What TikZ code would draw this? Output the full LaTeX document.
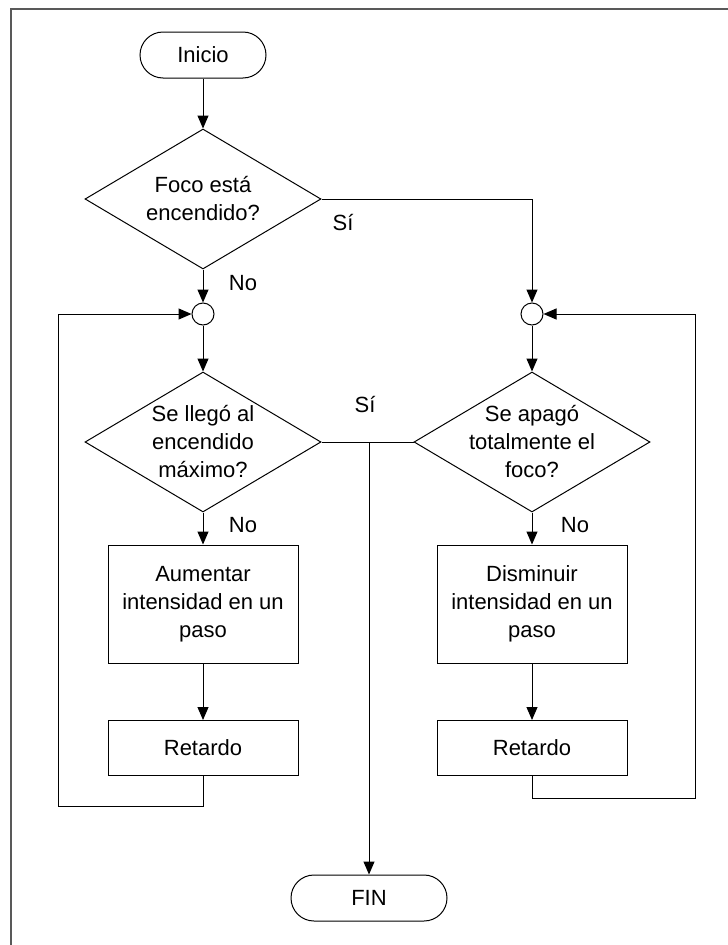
\documentclass[tikz,border=0pt]{standalone}
\usepackage{fontspec}
\setmainfont{Liberation Sans}
\usetikzlibrary{positioning,calc,arrows.meta,shapes.geometric}

\begin{document}
\begin{tikzpicture}[x=1pt,y=-1pt,line width=1pt,
  font=\fontsize{22}{28}\selectfont,
  arr/.style={-{Triangle[length=13pt,width=11pt]}},
  term/.style={draw,rounded corners=23pt,minimum width=126pt,minimum height=46pt},
  decide/.style={draw,diamond,inner sep=-8pt,aspect=1.66,align=center,
    minimum width=236pt,minimum height=140pt},
  proc/.style={draw,align=center,minimum width=190pt},
  junc/.style={draw,circle,minimum size=22pt,inner sep=0pt}]
  \useasboundingbox (0,0) rectangle (728,945);
  \draw[gray!70!black,line width=1.5pt] (11,960) -- (11,9) -- (740,9);

  % inicio y condicion
  \node[term] (inicio) at (203,55) {Inicio};
  \node[decide] (foco) at (203,199) {Foco está\\encendido?};
  \node[junc] (jA) at (203,314) {};
  \node[junc] (jD) at (532,314) {};
  \node (siA) at (343,223) {Sí};
  \node (noA) at (243,283) {No};

  % rama izquierda: aumentar
  \node[decide] (maxi) at (203,442) {Se llegó al\\encendido\\máximo?};
  \node (noB) at (243,525) {No};
  \node[proc,minimum height=118pt] (aumentar) at (203,604) {Aumentar\\intensidad en un\\paso};
  \node[proc,minimum height=55pt] (retA) at (203,748) {Retardo};
  \coordinate (loopA) at (58,806);

  % rama derecha: disminuir
  \node[decide] (apag) at (532,442) {Se apagó\\totalmente el\\foco?};
  \node (noC) at (575,525) {No};
  \node[proc,minimum height=118pt] (disminuir) at (532,604) {Disminuir\\intensidad en un\\paso};
  \node[proc,minimum height=55pt] (retD) at (532,748) {Retardo};
  \coordinate (loopD) at (695,798);

  % salida
  \node (siB) at (365,405) {Sí};
  \coordinate (jn) at (369,442);
  \node[term,minimum width=156pt] (fin) at (369,898) {FIN};

  \draw[arr] (inicio) -- (foco);
  \draw[arr] (foco) -- (jA);
  \draw[arr] (foco.east) -| (jD.north);
  \draw[arr] (jA) -- (maxi);
  \draw[arr] (jD) -- (apag);
  \draw[arr] (maxi) -- (aumentar);
  \draw[arr] (apag) -- (disminuir);
  \draw[arr] (aumentar) -- (retA);
  \draw[arr] (disminuir) -- (retD);
  \draw[arr] (retA.south) |- (loopA) |- (jA.west);
  \draw[arr] (retD.south) |- (loopD) |- (jD.east);
  \draw (maxi.east) -- (apag.west);
  \draw[arr] (jn) -- (fin.north);
\end{tikzpicture}
\end{document}
